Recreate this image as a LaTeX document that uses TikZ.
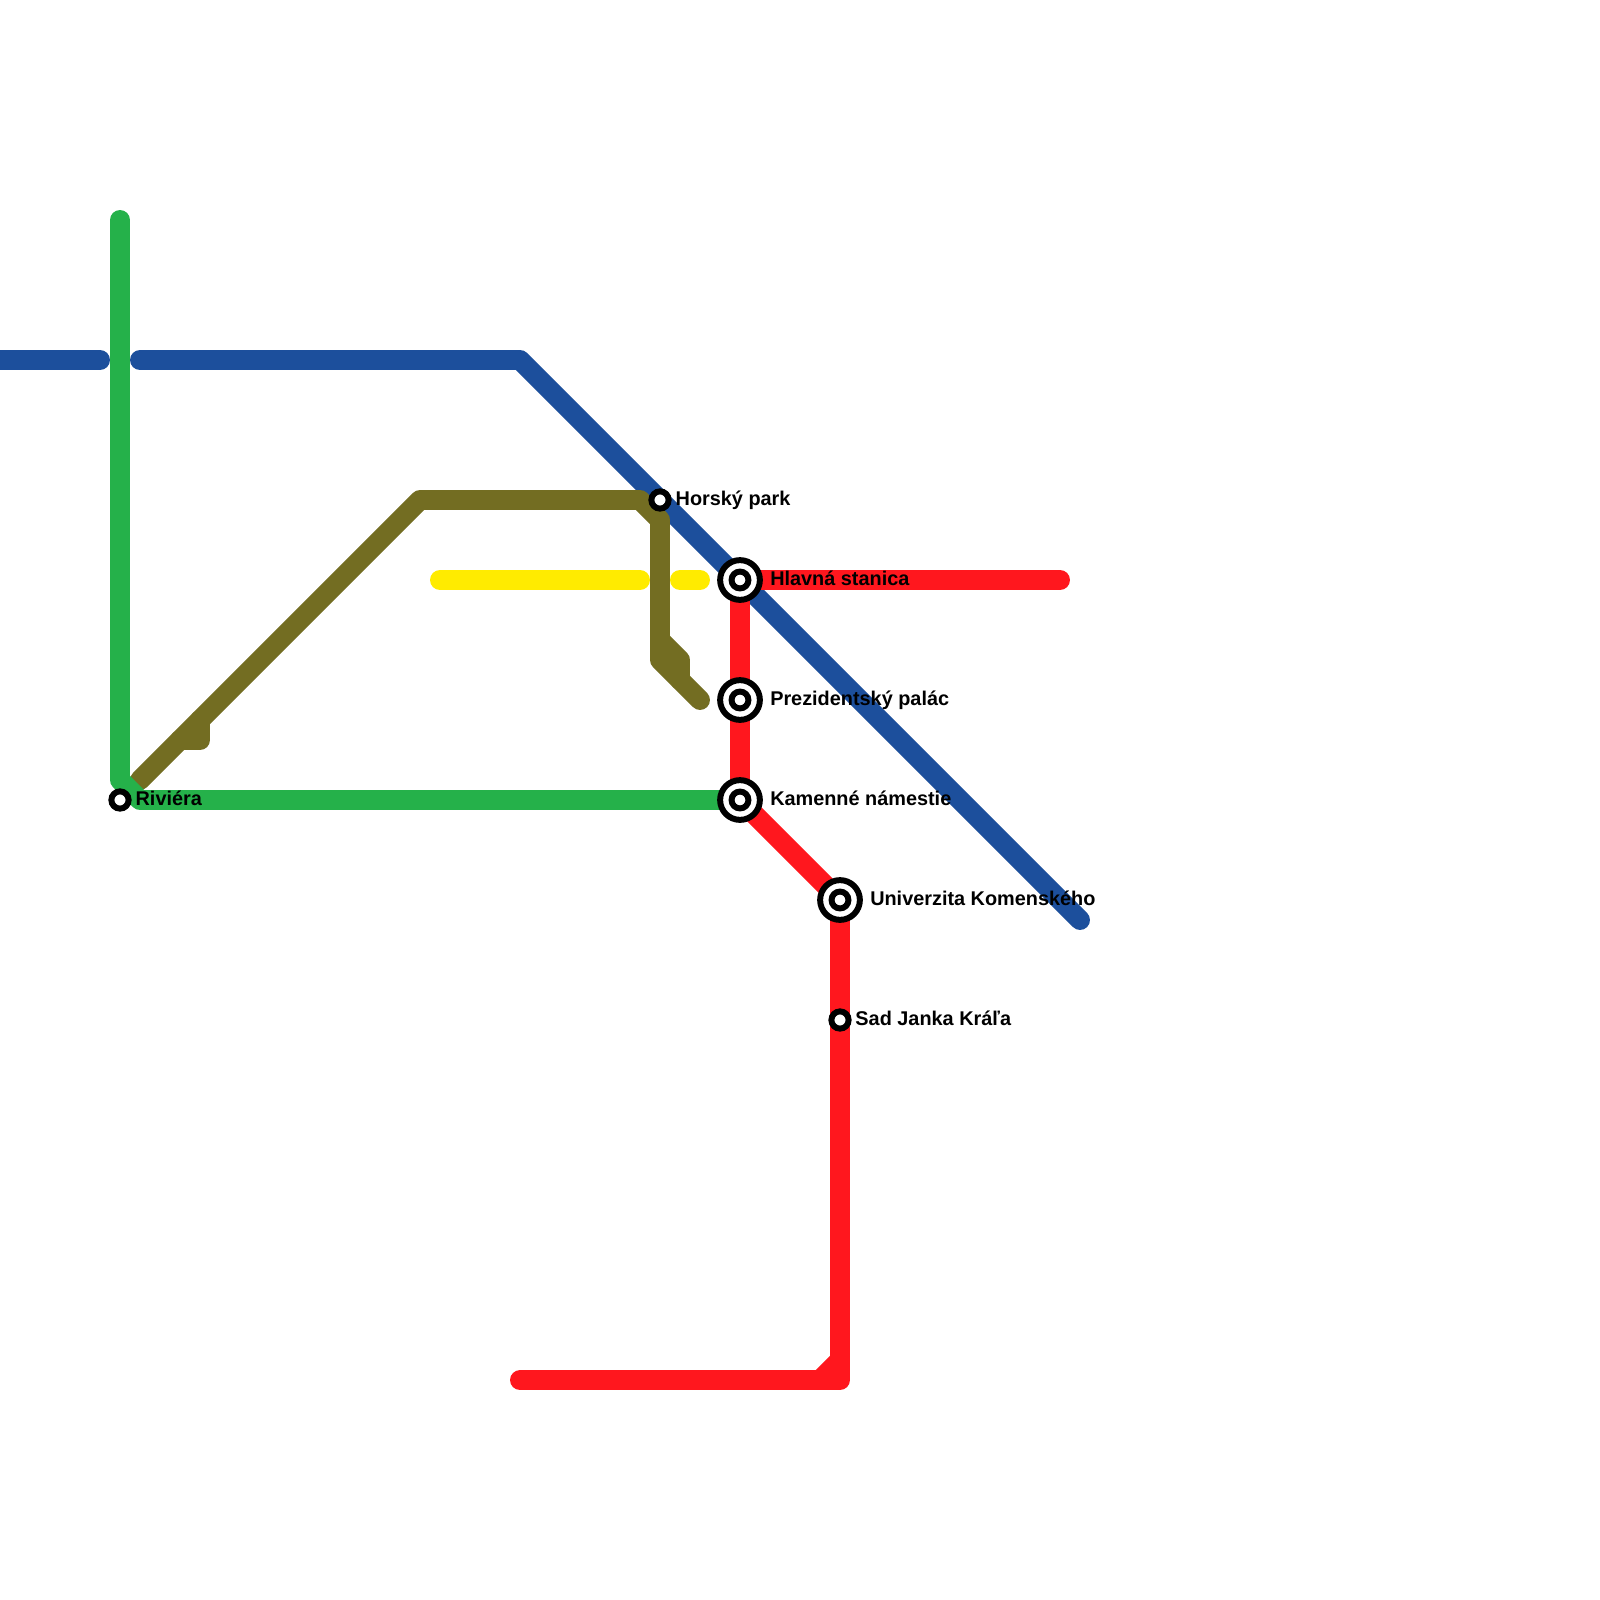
\documentclass[tikz,border=0pt]{standalone}
\usepackage{fontspec}
\setmainfont{Liberation Sans}
\usetikzlibrary{positioning}
\definecolor{mapGreen}{HTML}{25B14A}
\definecolor{mapBlue}{HTML}{1C4F9C}
\definecolor{mapOlive}{HTML}{736D22}
\definecolor{mapYellow}{HTML}{FFEB00}
\definecolor{mapRed}{HTML}{FF171E}
\tikzset{
  metro/.style     = {line width=5.67pt, line cap=round, line join=round},
  stopdot/.style   = {circle, draw=black, fill=white, line width=1.7pt, inner sep=0pt, minimum size=4.9pt},
  hubring/.style   = {circle, draw=black, fill=white, line width=1.7pt, inner sep=0pt, minimum size=11.3pt},
  hubdot/.style    = {circle, draw=black, fill=white, line width=1.7pt, inner sep=0pt, minimum size=4.8pt},
  lbl/.style       = {font=\bfseries\fontsize{5.65}{6.5}\selectfont, inner sep=0pt, text height=3.4pt, text depth=0pt},
}
\begin{document}
\begin{tikzpicture}[x=0.01cm,y=-0.01cm]
  \useasboundingbox (0,0) rectangle (1600,1600);

  % stations
  \coordinate (horsky) at (660,500);
  \coordinate (hlavna) at (740,580);
  \coordinate (prezident) at (740,700);
  \coordinate (kamenne) at (740,800);
  \coordinate (univerzita) at (840,900);
  \coordinate (sad) at (840,1020);
  \coordinate (riviera) at (120,800);

  % lines
  \draw[metro, mapBlue] (0,360) -- (100,360);
  \draw[metro, mapBlue] (140,360) -- (520,360) -- (1080,920);
  \draw[metro, mapRed] (hlavna) -- (1060,580);
  \draw[metro, mapRed] (hlavna) -- (kamenne) -- (univerzita) -- (840,1380) -- (520,1380);
  \draw[metro, mapRed] (820,1380) -- (840,1360);
  \draw[metro, mapYellow] (440,580) -- (640,580);
  \draw[metro, mapYellow] (680,580) -- (700,580);
  \draw[metro, mapOlive] (140,780) -- (420,500) -- (640,500) -- (660,520) -- (660,660) -- (700,700);
  \draw[metro, mapOlive] (180,740) -- (200,740) -- (200,720);
  \draw[metro, mapOlive] (660,640) -- (680,660) -- (680,680);
  \draw[metro, mapGreen] (120,220) -- (120,780) -- (140,800) -- (kamenne);

  % station marks
  \node[stopdot] (horskyDot) at (horsky) {};
  \node[stopdot] (sadDot) at (sad) {};
  \node[stopdot] (rivieraDot) at (riviera) {};
  \foreach \hub in {hlavna, prezident, kamenne, univerzita} {
    \node[hubring] (\hub Ring) at (\hub) {};
    \node[hubdot] (\hub Dot) at (\hub) {};
  }

  % names
  \node[lbl, right=4.25pt of horsky] (horskyLbl) {Horský park};
  \node[lbl, right=8.4pt of hlavna] (hlavnaLbl) {Hlavná stanica};
  \node[lbl, right=8.4pt of prezident] (prezidentLbl) {Prezidentský palác};
  \node[lbl, right=8.4pt of kamenne] (kamenneLbl) {Kamenné námestie};
  \node[lbl, right=8.4pt of univerzita] (univerzitaLbl) {Univerzita Komenského};
  \node[lbl, right=4.2pt of sad] (sadLbl) {Sad Janka Kráľa};
  \node[lbl, right=4.25pt of riviera] (rivieraLbl) {Riviéra};
\end{tikzpicture}
\end{document}
